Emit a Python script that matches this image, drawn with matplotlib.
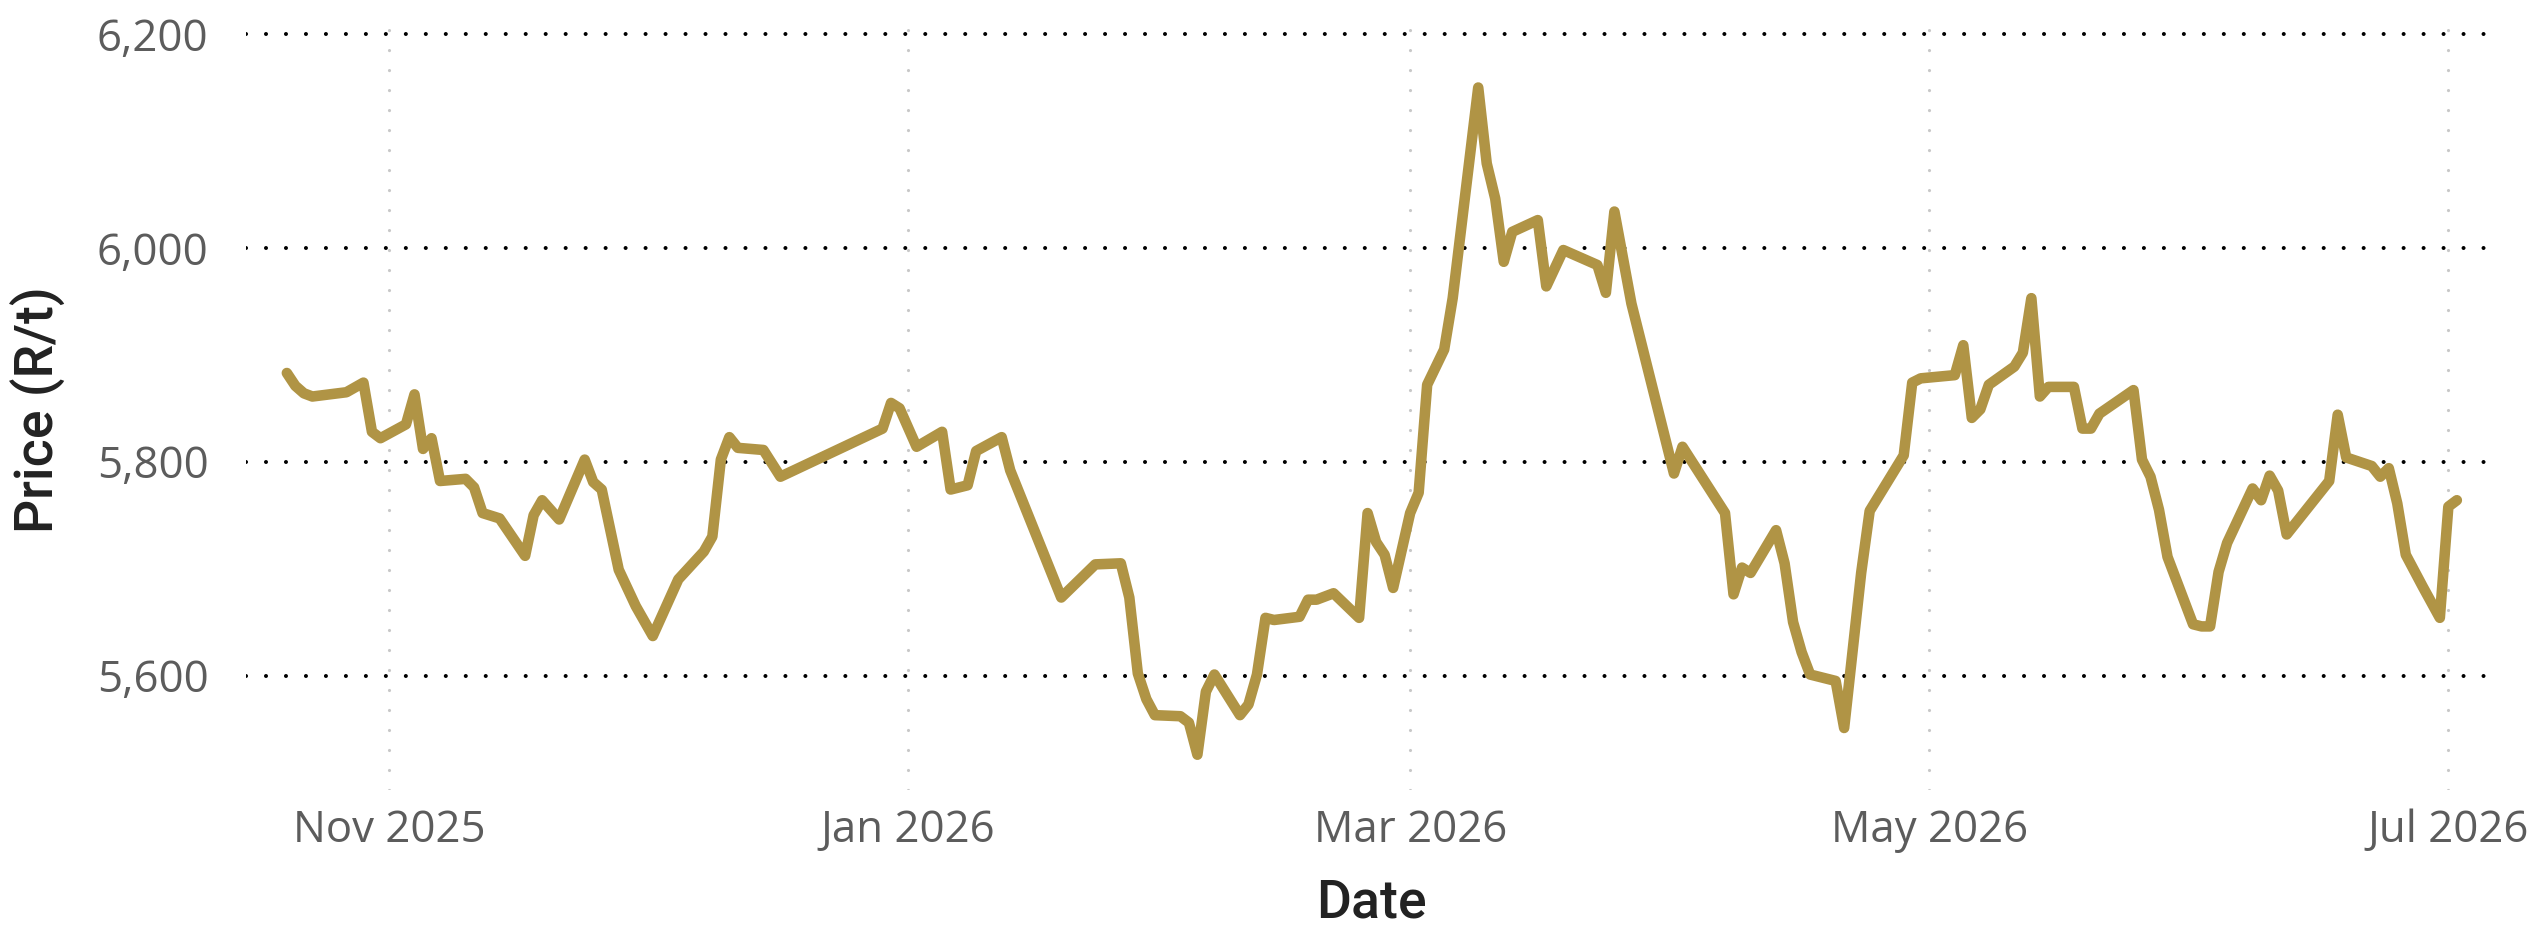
import matplotlib
matplotlib.use("Agg")
import matplotlib.pyplot as plt
import matplotlib.dates as mdates
from matplotlib.ticker import FuncFormatter, FixedLocator
import pandas as pd

# ---------------- data ----------------
dates = [
    "2025-10-20", "2025-10-21", "2025-10-22", "2025-10-23", "2025-10-27", "2025-10-29", "2025-10-30", "2025-10-31",
    "2025-11-03", "2025-11-04", "2025-11-05", "2025-11-06", "2025-11-07", "2025-11-10", "2025-11-11", "2025-11-12",
    "2025-11-14", "2025-11-17", "2025-11-18", "2025-11-19", "2025-11-21", "2025-11-24", "2025-11-25", "2025-11-26",
    "2025-11-28", "2025-11-30",
    "2025-12-02", "2025-12-05", "2025-12-08", "2025-12-09", "2025-12-10", "2025-12-11", "2025-12-12", "2025-12-15",
    "2025-12-17", "2025-12-29", "2025-12-30", "2025-12-31",
    "2026-01-02", "2026-01-05", "2026-01-06", "2026-01-08", "2026-01-09", "2026-01-12", "2026-01-13", "2026-01-19",
    "2026-01-23", "2026-01-26", "2026-01-27", "2026-01-28", "2026-01-29", "2026-01-30",
    "2026-02-02", "2026-02-03", "2026-02-04", "2026-02-05", "2026-02-06", "2026-02-09", "2026-02-10", "2026-02-11",
    "2026-02-12", "2026-02-13", "2026-02-16", "2026-02-17", "2026-02-18", "2026-02-20", "2026-02-23", "2026-02-24",
    "2026-02-25", "2026-02-26", "2026-02-27",
    "2026-03-01", "2026-03-02", "2026-03-03", "2026-03-05", "2026-03-06", "2026-03-09", "2026-03-10", "2026-03-11",
    "2026-03-12", "2026-03-13", "2026-03-16", "2026-03-17", "2026-03-19", "2026-03-23", "2026-03-24", "2026-03-25",
    "2026-03-27",
    "2026-04-01", "2026-04-02", "2026-04-07", "2026-04-08", "2026-04-09", "2026-04-10", "2026-04-13", "2026-04-14",
    "2026-04-15", "2026-04-16", "2026-04-17", "2026-04-20", "2026-04-21", "2026-04-23", "2026-04-24", "2026-04-28",
    "2026-04-29", "2026-04-30",
    "2026-05-04", "2026-05-05", "2026-05-06", "2026-05-07", "2026-05-08", "2026-05-11", "2026-05-12", "2026-05-13",
    "2026-05-14", "2026-05-15", "2026-05-18", "2026-05-19", "2026-05-20", "2026-05-21", "2026-05-25", "2026-05-26",
    "2026-05-27", "2026-05-28", "2026-05-29",
    "2026-06-01", "2026-06-02", "2026-06-03", "2026-06-04", "2026-06-05", "2026-06-08", "2026-06-09", "2026-06-10",
    "2026-06-11", "2026-06-12", "2026-06-17", "2026-06-18", "2026-06-19", "2026-06-22", "2026-06-23", "2026-06-24",
    "2026-06-25", "2026-06-26", "2026-06-28", "2026-06-30",
    "2026-07-01", "2026-07-02",
]

prices = [
    5883, 5871, 5864, 5861, 5865, 5874, 5828, 5822,
    5835, 5863, 5812, 5822, 5782, 5784, 5776, 5752,
    5747, 5712, 5750, 5764, 5746, 5802, 5781, 5774,
    5699, 5665,
    5637, 5690, 5716, 5730, 5802, 5823, 5813, 5811,
    5786, 5831, 5855, 5850,
    5814, 5828, 5774, 5778, 5810, 5823, 5792, 5673,
    5704, 5705, 5673, 5602, 5578, 5563,
    5562, 5556, 5526, 5585, 5601, 5563, 5573, 5601,
    5654, 5652, 5655, 5671, 5671, 5677, 5654, 5752,
    5725, 5713, 5682,
    5752, 5771, 5872, 5905, 5953, 6150, 6079, 6046,
    5987, 6015, 6026, 5964, 5998, 5984, 5958, 6034,
    5948,
    5789, 5814, 5752, 5676, 5701, 5696, 5736, 5705,
    5650, 5622, 5601, 5595, 5551, 5696, 5754, 5806,
    5874, 5878,
    5881, 5909, 5841, 5849, 5872, 5889, 5902, 5953,
    5861, 5870, 5870, 5831, 5831, 5845, 5867, 5802,
    5786, 5755, 5711,
    5648, 5646, 5646, 5697, 5724, 5775, 5764, 5787,
    5773, 5732, 5782, 5844, 5804, 5796, 5786, 5794,
    5761, 5713, 5683, 5654,
    5758, 5764,
]

y_ticks = [5600, 5800, 6000, 6200]
x_tick_dates = ["2025-11-01", "2026-01-01", "2026-03-01", "2026-05-01", "2026-07-01"]
x_label = "Date"
y_label = "Price (R/t)"

# ---------------- style ----------------
LINE_COLOR = "#B09445"
TICK_COLOR = "#5c5c5c"
LABEL_COLOR = "#222222"
TICK_FONT = ["Open Sans", "DejaVu Sans"]
LABEL_FONT = ["Roboto", "DejaVu Sans"]

W, H = 2541, 927
fig = plt.figure(figsize=(W / 100, H / 100), dpi=100)

ax_left, ax_right = 246, 2496
ax_top, ax_bottom = 28.7, 790
ax = fig.add_axes([ax_left / W, (H - ax_bottom) / H,
                   (ax_right - ax_left) / W, (ax_bottom - ax_top) / H])

x = pd.to_datetime(dates)
ax.plot(x, prices, color=LINE_COLOR, lw=7.6,
        solid_joinstyle="round", solid_capstyle="round", zorder=3)

ax.set_ylim(5493, 6205)
x0 = pd.Timestamp("2025-11-01")
ax.set_xlim(x0 + pd.Timedelta(days=-16.8), x0 + pd.Timedelta(days=247.6))

ax.yaxis.set_major_locator(FixedLocator(y_ticks))
ax.yaxis.set_major_formatter(FuncFormatter(lambda v, p: f"{v:,.0f}"))
ax.xaxis.set_major_locator(FixedLocator(mdates.date2num(pd.to_datetime(x_tick_dates))))
ax.xaxis.set_major_formatter(mdates.DateFormatter("%b %Y"))

for s in ax.spines.values():
    s.set_visible(False)

ax.tick_params(axis="both", length=0, colors=TICK_COLOR, labelsize=31.5)
ax.tick_params(axis="y", pad=27)
ax.tick_params(axis="x", pad=13)
for lab in ax.get_xticklabels() + ax.get_yticklabels():
    lab.set_family(TICK_FONT)

ax.grid(axis="y", color="black", linewidth=2.9, linestyle=(0, (0.01, 4.95)),
        dash_capstyle="round")
ax.grid(axis="x", color="#c8c8c8", linewidth=2.3, linestyle=(0, (0.01, 6.25)),
        dash_capstyle="round")
ax.set_axisbelow(True)

ax.set_xlabel(x_label, family=LABEL_FONT, fontsize=38.5, fontweight="medium",
              color=LABEL_COLOR, labelpad=18)
ax.set_ylabel(y_label, family=LABEL_FONT, fontsize=38.5, fontweight="medium",
              color=LABEL_COLOR, labelpad=22)

fig.savefig("out.png", dpi=100, facecolor="white")
